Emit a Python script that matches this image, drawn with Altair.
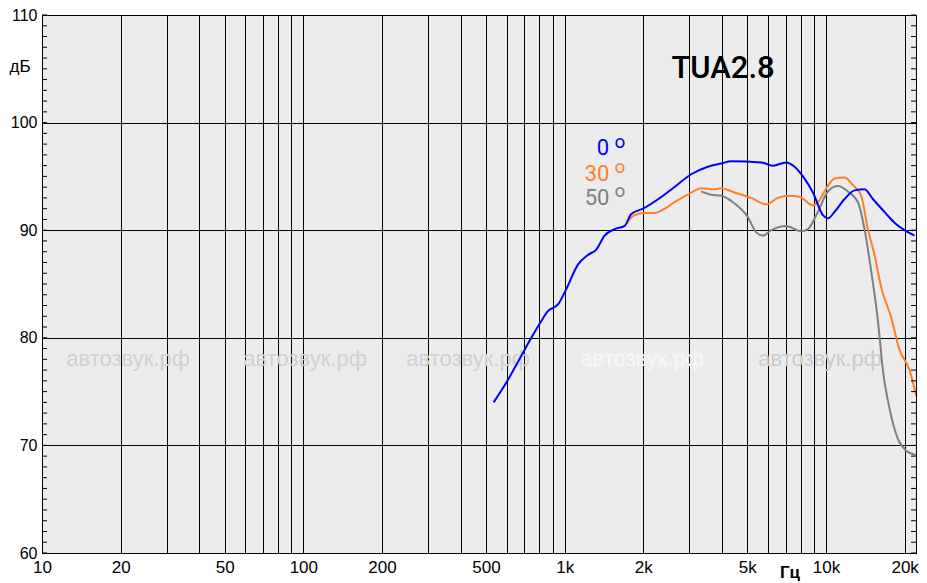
import altair as alt
import pandas as pd

# ---- data ----
f0 = [535, 607, 703, 802, 864, 943, 1013, 1124, 1228, 1321, 1422, 1553, 1696, 1798, 1994,
      2378, 2596, 3050, 3532, 3976, 4343, 5655, 6264, 7047, 7580, 8160, 8913, 9730, 10170,
      10780, 11780, 12860, 14040, 15110, 16740, 18280, 19970, 21800]
db0 = [74.0, 76.1, 78.9, 81.3, 82.5, 83.1, 84.5, 86.8, 87.7, 88.2, 89.5, 90.1, 90.4, 91.5, 92.0,
       93.2, 93.9, 95.2, 95.9, 96.2, 96.4, 96.3, 96.0, 96.3, 95.9, 95.0, 93.5, 91.4, 91.1,
       91.7, 92.9, 93.7, 93.8, 92.9, 91.7, 90.7, 90.0, 89.5]

f30 = [1722, 1850, 2021, 2208, 2377, 2632, 3004, 3333, 3745, 3970, 4466, 5172, 5902, 6544,
       7250, 7920, 8913, 9311, 10030, 10790, 11780, 12670, 13640, 14460, 15340, 16260, 17760,
       19100, 20870, 22150]
db30 = [90.6, 91.4, 91.6, 91.6, 91.9, 92.6, 93.4, 93.9, 93.8, 93.9, 93.5, 93.0, 92.4, 93.0,
        93.2, 93.1, 92.3, 92.6, 93.9, 94.8, 94.9, 94.2, 93.2, 90.1, 87.7, 84.7, 81.9,
        78.9, 77.0, 74.6]

f50 = [3333, 3640, 3970, 4406, 5027, 5403, 5735, 6169, 7045, 8043, 8528, 9311, 10170, 11100,
       12130, 13250, 14040, 14890, 15800, 16510, 17510, 18840, 20290, 22150]
db50 = [93.6, 93.3, 93.2, 92.6, 91.2, 89.8, 89.5, 90.0, 90.4, 89.9, 90.1, 91.7, 93.6, 94.1,
        93.6, 92.6, 90.1, 86.2, 81.6, 77.0, 73.4, 70.6, 69.5, 69.1]

series_names = ["0", "30", "50"]
series_colors = ["#0000ff", "#ff7f27", "#808080"]

x_grid = [10, 20, 30, 40, 50, 60, 70, 80, 90,
          100, 200, 300, 400, 500, 600, 700, 800, 900,
          1000, 2000, 3000, 4000, 5000, 6000, 7000, 8000, 9000,
          10000, 20000]
x_labels = [10, 20, 50, 100, 200, 500, 1000, 2000, 5000, 10000, 20000]
y_ticks = [60, 70, 80, 90, 100, 110]
y_minor = list(range(60, 111))

title_text = "TUA2.8"
watermark = "автозвук.рф"

# ---- layout constants ----
W, H = 874, 538

xscale = alt.Scale(type="log", domain=[10, 22100], nice=False)
yscale = alt.Scale(domain=[60, 110], nice=False, zero=False)

label_list = "[" + ",".join(str(v) for v in x_labels) + "]"
label_expr = (f"indexof({label_list}, datum.value) >= 0 ? "
              "(datum.value >= 1000 ? (datum.value/1000) + 'k' : '' + datum.value) : ''")

x_axis = alt.Axis(values=x_grid, labelExpr=label_expr, grid=True, ticks=False,
                  labelPadding=6, title=None, labelFontSize=17, labelColor="black",
                  labelFont="Liberation Sans", labelOverlap=False, labelFlush=False)
y_axis = alt.Axis(values=y_ticks, grid=True, ticks=False, labelPadding=5, title=None,
                  labelFontSize=16, labelColor="black", labelFont="Liberation Sans")


def series_df(name, fs, dbs):
    return pd.DataFrame({"f": fs, "db": dbs, "s": name})


layers = []
# order: gray below, orange, blue on top
for name, fs, dbs, col in [("50", f50, db50, series_colors[2]),
                           ("30", f30, db30, series_colors[1]),
                           ("0", f0, db0, series_colors[0])]:
    layers.append(
        alt.Chart(series_df(name, fs, dbs)).mark_line(
            color=col, strokeWidth=2, interpolate="monotone", clip=True
        ).encode(
            x=alt.X("f:Q", scale=xscale, axis=x_axis),
            y=alt.Y("db:Q", scale=yscale, axis=y_axis),
        )
    )

# minor ticks inside left and right edges
minor_df = pd.DataFrame({"db": y_minor})
for x1, x2 in [(0, 5), (W - 5, W)]:
    layers.append(
        alt.Chart(minor_df).mark_rule(color="black", strokeWidth=1).encode(
            y=alt.Y("db:Q", scale=yscale, axis=y_axis),
            x=alt.value(x1), x2=alt.value(x2),
        )
    )


def text_layer(txt, x, y, **kw):
    return alt.Chart(pd.DataFrame({"t": [txt]})).mark_text(**kw).encode(
        text="t:N", x=alt.value(x), y=alt.value(y))


# watermarks (drawn first)
wm_layers = []
for wx, col in [(86, "#d0d0d0"), (263, "#d0d0d0"), (426, "#d0d0d0"),
                (600, "#f6f6f6"), (778, "#cbcbcb")]:
    wm_layers.append(text_layer(watermark, wx, 344, fontSize=22, font="Liberation Sans",
                                color=col, align="center", baseline="middle"))
layers = wm_layers + layers

# title and legend texts
layers.append(text_layer(title_text, 681, 54, fontSize=31, font="Roboto", fontWeight=500,
                         color="black", align="center", baseline="middle"))
legend_pos = [(561, 133, 127), (555, 159, 152), (555, 183, 176)]
for (name, col), (lx, ly, oy) in zip(zip(series_names, series_colors), legend_pos):
    layers.append(text_layer(name, lx, ly, fontSize=22, font="Roboto", color=col,
                             align="center", baseline="middle"))
    layers.append(text_layer("o", 578, oy, fontSize=19, font="Roboto", color=col,
                             align="center", baseline="middle"))

# axis unit labels
layers.append(text_layer("дБ", -22, 52, fontSize=17, font="Liberation Sans",
                         color="black", align="center", baseline="middle"))
layers.append(text_layer("Гц", 748, 558, fontSize=17, font="Liberation Sans",
                         fontWeight="bold", color="black", align="center", baseline="middle"))

chart = alt.layer(*layers).properties(
    width=W, height=H,
    autosize=alt.AutoSizeParams(type="none"),
    padding={"left": 34, "top": 7, "right": 3, "bottom": 30},
    background="white",
).configure_view(
    fill="#ececec", stroke="black", strokeWidth=1
).configure_axis(
    gridColor="black", gridOpacity=1, gridWidth=1,
    domainColor="black", domainWidth=1,
)

chart.save("out.html", embed_options={"renderer": "svg", "actions": False})
